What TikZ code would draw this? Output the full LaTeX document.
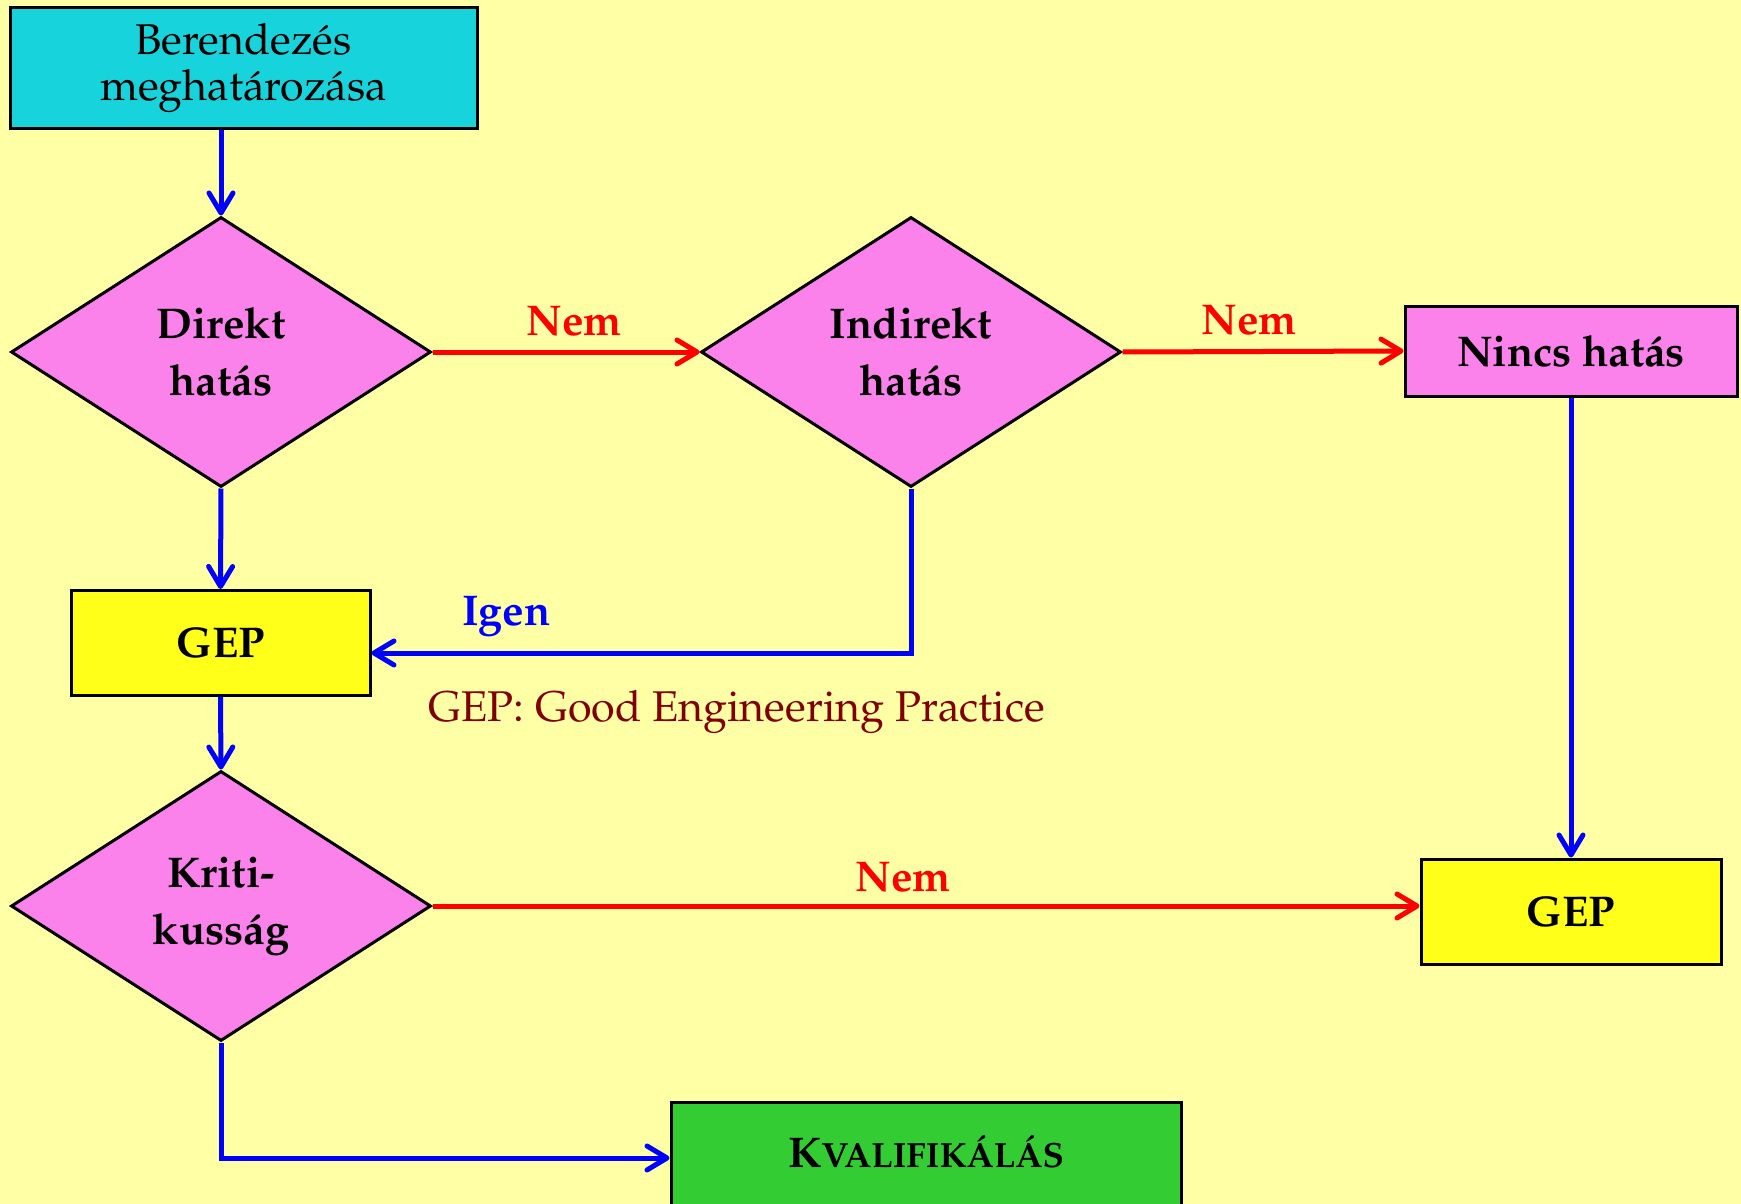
\documentclass[tikz,border=0pt]{standalone}
\usepackage[T1]{fontenc}
\renewcommand{\rmdefault}{ppl}
\usetikzlibrary{shapes.geometric,arrows.meta}

\definecolor{bgyellow}{RGB}{255,255,166}
\definecolor{boxcyan}{RGB}{23,212,220}
\definecolor{boxpink}{RGB}{250,130,234}
\definecolor{boxyellow}{RGB}{255,255,26}
\definecolor{boxgreen}{RGB}{51,204,51}
\definecolor{notered}{RGB}{128,0,0}

\begin{document}
\begin{tikzpicture}[x=1pt,y=-1pt,
  txt/.style={font=\fontsize{43}{46}\selectfont},
  btxt/.style={font=\fontsize{43}{57}\selectfont\bfseries},
  box/.style={draw=black,line width=3pt,inner sep=0pt,align=center,txt},
  decision/.style={diamond,draw=black,line width=3pt,fill=boxpink,inner sep=0pt,
    aspect=1,minimum width=420pt,minimum height=270pt,align=center,btxt},
  tipbarb/.style={-{Straight Barb[length=20pt,width=24pt,line cap=round,line join=round]}},
  yesline/.style={draw=blue,line width=5pt,tipbarb},
  noline/.style={draw=red,line width=5pt,tipbarb},
  nolabel/.style={text=red,btxt,anchor=base,inner sep=0pt},
  yeslabel/.style={text=blue,btxt,anchor=base,inner sep=0pt}]

  % page and background
  \useasboundingbox (0,0) rectangle (1741,1204);
  \fill[bgyellow] (0,0) rectangle (1741,1204);

  % boxes and decisions
  \node[box,fill=boxcyan,minimum width=467pt,minimum height=121pt] (top) at (243.5,68)
    {Berendez\'es\\meghat\'aroz\'asa};
  \node[decision] (d1) at (221,352) {Direkt\\hat\'as};
  \node[decision] (d2) at (911,352) {Indirekt\\hat\'as};
  \node[box,fill=boxpink,btxt,minimum width=332pt,minimum height=90pt] (nincs) at (1571,351)
    {Nincs hat\'as};
  \node[box,fill=boxyellow,btxt,minimum width=299pt,minimum height=105pt] (gep1) at (220.5,643) {GEP};
  \node[box,fill=boxyellow,btxt,minimum width=300pt,minimum height=105pt] (gep2) at (1571,911.5) {GEP};
  \node[decision] (krit) at (221,906) {Kriti-\\kuss\'ag};
  \node[box,fill=boxgreen,minimum width=510pt,minimum height=126pt,
    label={[btxt,yshift=13pt]center:{\fontsize{43}{47}\selectfont K}{\fontsize{35}{40}\selectfont VALIFIK\'AL\'AS}}]
    (kval) at (926,1165) {};

  % note
  \node[txt,text=notered,inner sep=0pt] (note) at (737,712) {GEP: Good Engineering Practice};

  % connectors
  \draw[yesline] (top.south -| d1.north) -- (d1.north);
  \draw[noline] (d1.east) -- node[nolabel,yshift=17pt,pos=0.53] {Nem} (d2.west);
  \draw[noline] (d2.east) -- node[nolabel,yshift=17pt,pos=0.45] {Nem} (nincs.west);
  \draw[yesline] (d1.south) -- (gep1.north);
  \draw[yesline] (d2.south) |- node[yeslabel,pos=0.875,yshift=28pt] {Igen} ([yshift=-10pt]gep1.east);
  \draw[yesline] (gep1.south) -- (krit.north);
  \draw[yesline] (nincs.south) -- (gep2.north);
  \draw[noline] (krit.east) -- node[nolabel,pos=0.477,yshift=15pt] {Nem} (krit.east -| gep2.west);
  \draw[yesline] (krit.south) |- ([yshift=7pt]kval.west);
\end{tikzpicture}
\end{document}
